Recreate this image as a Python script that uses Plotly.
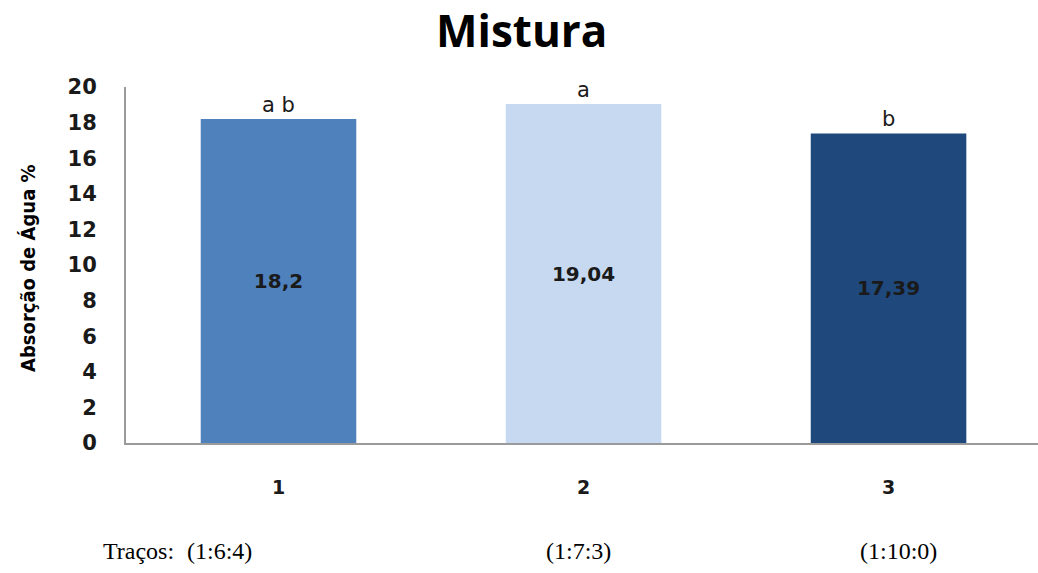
import plotly.graph_objects as go

# Data
categories = [1, 2, 3]
absorcao = [18.2, 19.04, 17.39]
letras = ["a b", "a", "b"]
tracos = ["(1:6:4)", "(1:7:3)", "(1:10:0)"]
cores = ["#4F81BD", "#C6D9F1", "#1F497D"]
y_ticks = list(range(0, 21, 2))

W, H = 1038, 573
L, R, T, B = 126, 0, 87, 130
plot_w = W - L - R
plot_h = H - T - B


def px_x(px):
    return (px - L) / plot_w


def px_y(py):
    return (H - B - py) / plot_h


x_idx = list(range(len(categories)))
valor_txt = [f"{v:g}".replace(".", ",") for v in absorcao]

fig = go.Figure()
fig.add_trace(go.Bar(
    x=x_idx,
    y=absorcao,
    marker=dict(color=cores, line=dict(width=0)),
    text=valor_txt,
    textposition="inside",
    insidetextanchor="middle",
    textangle=0,
    textfont=dict(family="DejaVu Sans", size=20, color="#1a1a1a", weight="bold"),
    hoverinfo="skip",
))

annotations = []
# significance letters above each bar
for i, (v, l) in enumerate(zip(absorcao, letras)):
    annotations.append(dict(
        x=i, y=v, xref="x", yref="y", text=l, showarrow=False,
        yanchor="bottom", yshift=0,
        font=dict(family="DejaVu Sans", size=21, color="#1a1a1a"),
    ))

# title
annotations.append(dict(
    x=px_x(521), y=px_y(30), xref="paper", yref="paper",
    text="<b>Mistura</b>", showarrow=False, xanchor="center", yanchor="middle",
    font=dict(family="Open Sans", size=44, color="#000000"),
))

# y-axis title
annotations.append(dict(
    x=px_x(28), y=px_y(268), xref="paper", yref="paper",
    text="<b>Absorção de Água %</b>", showarrow=False, textangle=-90,
    xanchor="center", yanchor="middle",
    font=dict(family="DejaVu Sans Condensed", size=20, color="#000000"),
))

# mix proportions under the chart
annotations.append(dict(
    x=px_x(101), y=px_y(551), xref="paper", yref="paper",
    text="Traços:", showarrow=False, xanchor="left", yanchor="middle",
    font=dict(family="Liberation Serif", size=24, color="#000000"),
))
for cx, t in zip([219, 578, 898], tracos):
    annotations.append(dict(
        x=px_x(cx), y=px_y(551), xref="paper", yref="paper",
        text=t, showarrow=False, xanchor="center", yanchor="middle",
        font=dict(family="Liberation Serif", size=24, color="#000000"),
    ))

fig.update_layout(
    width=W, height=H,
    margin=dict(l=L, r=R, t=T, b=B, pad=0),
    paper_bgcolor="white", plot_bgcolor="white",
    showlegend=False,
    bargap=0.49,
    annotations=annotations,
    xaxis=dict(
        range=[-0.5, 2.49],
        tickvals=x_idx,
        ticktext=[str(c) for c in categories],
        showgrid=False, zeroline=False,
        showline=True, linecolor="#9a9a9a", linewidth=2,
        ticks="", ticklabelstandoff=26,
        tickfont=dict(family="DejaVu Sans", size=19, color="#1a1a1a", weight="bold"),
        fixedrange=True,
    ),
    yaxis=dict(
        range=[0, 20],
        tickvals=y_ticks,
        showgrid=False, zeroline=False,
        showline=True, linecolor="#9a9a9a", linewidth=2,
        ticks="", ticklabelstandoff=23,
        tickfont=dict(family="DejaVu Sans", size=21, color="#1a1a1a", weight="bold"),
        fixedrange=True,
    ),
)

fig.write_html("out.html")
